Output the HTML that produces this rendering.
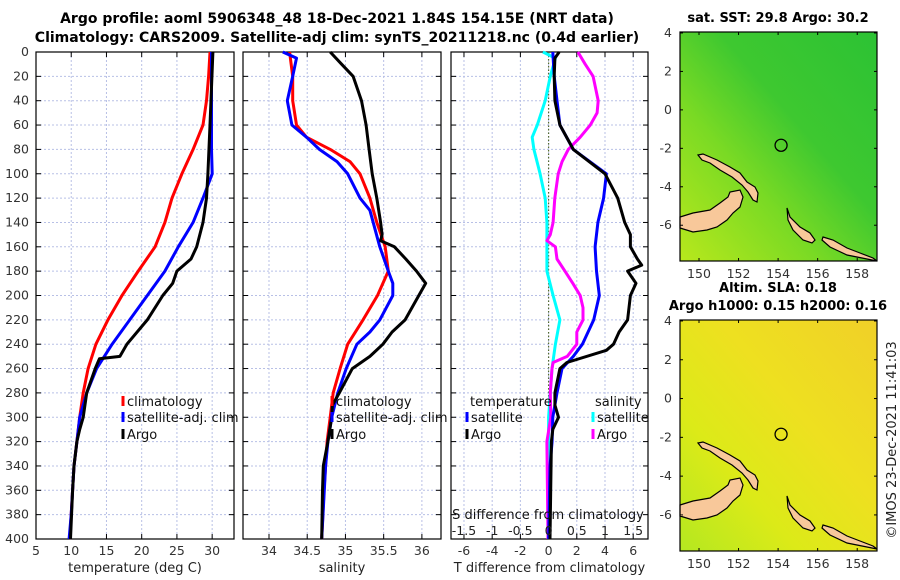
<!DOCTYPE html>
<html><head><meta charset="utf-8"><style>
body{margin:0;background:#fff;}
svg{display:block;font-family:"DejaVu Sans","Liberation Sans",sans-serif;}
</style></head><body>
<svg id="chart" width="900" height="580" viewBox="0 0 900 580" xmlns="http://www.w3.org/2000/svg">
<text x="337" y="23" text-anchor="middle" font-size="14" font-weight="bold">Argo profile: aoml 5906348_48 18-Dec-2021 1.84S 154.15E (NRT data)</text>
<text x="337" y="42" text-anchor="middle" font-size="14" font-weight="bold">Climatology: CARS2009. Satellite-adj clim: synTS_20211218.nc (0.4d earlier)</text>
<g id="plots"></g>
<g id="maps"></g>
<text transform="translate(896,440) rotate(-90)" text-anchor="middle" font-size="13" fill="#222">©IMOS 23-Dec-2021 11:41:03</text>
</svg>
<script>
// depth levels
const depths = [0,20,40,60,80,100,120,140,160,180,200,220,240,260,280,300,320,340,360,380,400];
// temperature (deg C)
const tClim = [29.7,29.5,29.2,28.7,27.3,25.7,24.3,23.3,21.9,19.5,17.2,15.2,13.5,12.4,11.7,11.2,10.8,10.4,10.2,10.0,9.8];
const tSat  = [29.9,29.9,29.9,29.9,29.9,30.0,28.7,27.3,25.2,23.3,20.8,18.3,15.8,13.6,12.2,11.2,10.8,10.4,10.2,10.0,9.7];
const argoDepths = [0,60,100,120,140,160,170,180,190,200,220,240,250,252,260,280,300,310,320,340,360,400];
const tArgo = [30.1,29.7,29.4,29.2,28.7,27.8,27.0,25.0,24.4,23.0,20.8,17.9,16.9,14.0,13.4,12.2,11.7,11.2,10.8,10.4,10.2,9.9];
// salinity
const sDepthsC = [0,20,40,60,70,80,90,100,120,140,160,180,200,220,240,260,280,300,320,340,360,400];
const sClim = [34.27,34.31,34.31,34.36,34.49,34.80,35.06,35.19,35.32,35.41,35.52,35.56,35.42,35.23,35.03,34.93,34.84,34.80,34.76,34.74,34.72,34.69];
const sDepthsS = [0,5,20,40,60,70,80,90,100,120,130,160,180,190,200,220,230,240,260,280,300,320,340,400];
const sSat = [34.18,34.36,34.31,34.24,34.30,34.49,34.66,34.89,35.03,35.19,35.32,35.45,35.56,35.62,35.62,35.45,35.32,35.15,35.01,34.90,34.82,34.77,34.74,34.69];
const sDepthsA = [0,10,20,40,60,80,100,120,140,150,155,160,170,180,190,200,220,230,240,250,260,280,290,300,320,340,360,400];
const sArgo = [34.80,34.95,35.10,35.21,35.27,35.31,35.35,35.41,35.46,35.48,35.46,35.64,35.79,35.93,36.05,35.96,35.78,35.61,35.49,35.32,35.09,34.92,34.83,34.82,34.77,34.71,34.70,34.69];
// differences
const dSDepthsSat = [0,5,20,40,60,70,80,100,120,140,160,180,200,220,240,260,280,300,400];
const dSSat = [-0.10,0.12,0.03,-0.06,-0.20,-0.29,-0.26,-0.15,-0.06,-0.03,-0.03,-0.03,0.08,0.20,0.12,0.06,0.03,0.0,-0.01];
const dSDepthsArgo = [0,10,20,40,50,60,70,80,90,100,120,140,150,155,160,170,180,190,200,210,220,230,240,250,255,260,280,300,320,400];
const dSArgo = [0.52,0.65,0.79,0.88,0.86,0.74,0.56,0.35,0.24,0.17,0.11,0.08,0.03,-0.03,0.12,0.15,0.29,0.43,0.56,0.61,0.61,0.50,0.50,0.33,0.08,0.06,0.03,0.04,-0.03,-0.01];
const dTDepthsSat = [0,20,40,60,80,100,120,140,160,180,200,220,240,250,260,280,300,320,340,400];
const dTSat = [0.3,0.4,0.6,0.8,1.75,4.1,3.9,3.5,3.3,3.4,3.6,3.2,2.4,1.75,0.95,0.6,0.3,0.25,0.1,0.0];
const dTDepthsArgo = [0,5,20,40,60,80,100,120,140,150,160,170,175,180,190,200,220,230,240,245,255,260,280,290,300,310,320,400];
const dTArgo = [0.75,0.45,0.4,0.45,0.8,1.75,4.0,4.9,5.4,5.8,5.8,6.3,6.6,5.6,6.2,5.8,5.6,5.0,4.6,4.1,1.3,0.8,0.45,0.45,0.7,0.3,0.2,0.1];
// tick labels
const depthTicks = [0,20,40,60,80,100,120,140,160,180,200,220,240,260,280,300,320,340,360,380,400];
const tTicks = [5,10,15,20,25,30];
const sTicks = [34,34.5,35,35.5,36];
const dTTicks = [-6,-4,-2,0,2,4,6];
const dSTicks = [-1.5,-1,-0.5,0,0.5,1,1.5];
const lonTicks = [150,152,154,156,158];
const latTicks = [4,2,0,-2,-4,-6];

const NS='http://www.w3.org/2000/svg';
function mk(tag,attrs,parent,txt){const e=document.createElementNS(NS,tag);for(const k in attrs)e.setAttribute(k,attrs[k]);if(txt!==undefined)e.textContent=txt;parent.appendChild(e);return e;}
const plots=document.getElementById('plots');
const Y0=52,Y1=539;
const yOf=d=>Y0+(d/400)*(Y1-Y0);

function panel(name,x0,x1,vmin,vmax,xticks,xlabel,fmt){
  const g=mk('g',{},plots);
  
  
  const sx=v=>x0+(v-vmin)/(vmax-vmin)*(x1-x0);
  xticks.forEach(t=>{const x=sx(t);
    const l=mk('line',{x1:x,x2:x,y1:Y0,y2:Y1,stroke:'#b8c0e6','stroke-width':1,'stroke-dasharray':'2,2'},g);
    
    mk('line',{x1:x,x2:x,y1:Y1,y2:Y1-5,stroke:'#000'},g);mk('line',{x1:x,x2:x,y1:Y0,y2:Y0+5,stroke:'#000'},g);
    const tx=mk('text',{x:x,y:Y1+16,'text-anchor':'middle','font-size':12.5,fill:'#333'},g,fmt?fmt(t):String(t));
    
  });
  depthTicks.forEach(d=>{const y=yOf(d);
    const l=mk('line',{x1:x0,x2:x1,y1:y,y2:y,stroke:'#b8c0e6','stroke-width':1,'stroke-dasharray':'2,2'},g);
    
    mk('line',{x1:x0,x2:x0+5,y1:y,y2:y,stroke:'#000'},g);mk('line',{x1:x1,x2:x1-5,y1:y,y2:y,stroke:'#000'},g);
  });
  const r=mk('rect',{x:x0,y:Y0,width:x1-x0,height:Y1-Y0,fill:'none',stroke:'#000','stroke-width':1.2},g);
  
  if(xlabel){const t=mk('text',{x:(x0+x1)/2,y:572,'text-anchor':'middle','font-size':13,fill:'#222'},g,xlabel);
    }
  return {g,sx};
}
function series(p,deps,vals,color,name){
  const pts=deps.map((d,i)=>p.sx(vals[i]).toFixed(1)+','+yOf(d).toFixed(1)).join(' ');
  const l=mk('polyline',{points:pts,fill:'none',stroke:color,'stroke-width':3,'stroke-linejoin':'round'},p.g);
  
}
function legend(g,x,y,color,label){
  const m=mk('line',{x1:x,x2:x,y1:y-10,y2:y,stroke:color,'stroke-width':3},g);
  
  const t=mk('text',{x:x+4,y:y,'font-size':13,fill:'#111'},g,label);
  
}

depthTicks.forEach(d=>{const t=mk('text',{x:29,y:yOf(d)+4,'text-anchor':'end','font-size':12.5,fill:'#333'},plots,String(d));
  });

const p1=panel('temperature-panel',36,234,5,33.1,tTicks,'temperature (deg C)');
series(p1,depths,tClim,'#f00','temp-climatology-line');
series(p1,depths,tSat,'#00f','temp-satellite-line');
series(p1,argoDepths,tArgo,'#000','temp-argo-line');
legend(p1.g,123,406,'#f00','climatology');legend(p1.g,123,422,'#00f','satellite-adj. clim');legend(p1.g,123,439,'#000','Argo');

const p2=panel('salinity-panel',243,441,33.66,36.25,sTicks,'salinity');
series(p2,sDepthsC,sClim,'#f00','sal-climatology-line');
series(p2,sDepthsS,sSat,'#00f','sal-satellite-line');
series(p2,sDepthsA,sArgo,'#000','sal-argo-line');
legend(p2.g,332,406,'#f00','climatology');legend(p2.g,332,422,'#00f','satellite-adj. clim');legend(p2.g,332,439,'#000','Argo');

const p3=panel('difference-panel',451,648,-6.92,7.05,dTTicks,'T difference from climatology');
const zx=p3.sx(0);
const zl=mk('line',{x1:zx,x2:zx,y1:Y0,y2:Y1,stroke:'#556b2f','stroke-width':1.2,'stroke-dasharray':'1.5,2'},p3.g);

const p3s={g:p3.g,sx:v=>p3.sx(v*4)};
series(p3s,dSDepthsSat,dSSat,'#0ff','sal-diff-satellite-line');
series(p3s,dSDepthsArgo,dSArgo,'#f0f','sal-diff-argo-line');
series(p3,dTDepthsSat,dTSat,'#00f','temp-diff-satellite-line');
series(p3,dTDepthsArgo,dTArgo,'#000','temp-diff-argo-line');
const lt=mk('text',{x:470,y:406,'font-size':13,fill:'#111'},p3.g,'temperature');
const ls=mk('text',{x:595,y:406,'font-size':13,fill:'#111'},p3.g,'salinity');
legend(p3.g,467,422,'#00f','satellite');legend(p3.g,467,439,'#000','Argo');
legend(p3.g,593,422,'#0ff','satellite');legend(p3.g,593,439,'#f0f','Argo');
const st=mk('text',{x:548,y:519,'text-anchor':'middle','font-size':13,fill:'#111'},p3.g,'S difference from climatology');

dSTicks.forEach(t=>{const tx=mk('text',{x:p3s.sx(t),y:535,'text-anchor':'middle','font-size':12.5,fill:'#222'},p3.g,String(t));
  });

// maps
const maps=document.getElementById('maps');
const MX0=680,MX1=877,LON0=149.04,LON1=159.0;
const lonX=l=>MX0+(l-LON0)/(LON1-LON0)*(MX1-MX0);
function map(name,y0,y1,title1,title2,gradStops,id){
  const g=mk('g',{},maps);
  
  const latY=la=>y0+(4.05-la)/(4.05+7.86)*(y1-y0);
  const defs=mk('defs',{},g);
  const lg=mk('linearGradient',{id:id,x1:'0',y1:'1',x2:'1',y2:'0'},defs);
  gradStops.forEach(s=>mk('stop',{offset:s[0],'stop-color':s[1]},lg));
  const bg=mk('rect',{x:MX0,y:y0,width:MX1-MX0,height:y1-y0,fill:'url(#'+id+')'},g);
  
  const dy=y0-32;
  const land=[
    [[698,155],[703,154],[717,160],[730,167],[740,173],[747,182],[755,187],[758,193],[757,202],[753,200],[748,192],[742,185],[732,177],[720,170],[710,163],[702,160]],
    [[680,217],[693,213],[710,210],[720,203],[728,197],[730,192],[740,190],[743,197],[740,207],[733,213],[727,220],[717,227],[707,230],[693,232],[680,228]],
    [[787,208],[790,217],[800,227],[810,233],[815,240],[812,243],[803,240],[793,230],[788,220]],
    [[823,237],[833,240],[847,248],[860,253],[873,258],[877,261],[847,255],[830,247],[822,240]]
  ];
  land.forEach(poly=>{const p=mk('polygon',{points:poly.map(q=>q[0]+','+(q[1]+dy)).join(' '),fill:'#f8c89a',stroke:'#000','stroke-width':1.2},g);
    });
  const c=mk('circle',{cx:lonX(154.15),cy:latY(-1.84),r:6,fill:'none',stroke:'#000','stroke-width':1.3},g);
  
  const fr=mk('rect',{x:MX0,y:y0,width:MX1-MX0,height:y1-y0,fill:'none',stroke:'#000','stroke-width':1.2},g);
  
  lonTicks.forEach(l=>{const x=lonX(l);mk('line',{x1:x,x2:x,y1:y1,y2:y1-3,stroke:'#000'},g);mk('line',{x1:x,x2:x,y1:y0,y2:y0+3,stroke:'#000'},g);
    const t=mk('text',{x:x,y:y1+17,'text-anchor':'middle','font-size':12.5,fill:'#333'},g,String(l));
    });
  latTicks.forEach(la=>{const y=latY(la);mk('line',{x1:MX0,x2:MX0+3,y1:y,y2:y,stroke:'#000'},g);mk('line',{x1:MX1,x2:MX1-3,y1:y,y2:y,stroke:'#000'},g);
    const t=mk('text',{x:672,y:y+4,'text-anchor':'end','font-size':12.5,fill:'#333'},g,String(la));
    });
  const t1=mk('text',{x:778,y:title2?y0-28:y0-10,'text-anchor':'middle','font-size':13,'font-weight':'bold'},g,title1);
  
  if(title2){const t2=mk('text',{x:778,y:y0-10,'text-anchor':'middle','font-size':13,'font-weight':'bold'},g,title2);
    }
}
map('sst-map',32,261,'sat. SST: 29.8 Argo: 30.2',null,[[0,'#b8e81c'],[0.35,'#7ada24'],[0.6,'#3ec830'],[1,'#2cc234']],'gsst');
map('sla-map',320,551,'Altim. SLA: 0.18','Argo h1000: 0.15 h2000: 0.16',[[0,'#b4e820'],[0.3,'#dcea18'],[0.6,'#eee020'],[1,'#f0d028']],'gsla');
</script>
</body></html>
